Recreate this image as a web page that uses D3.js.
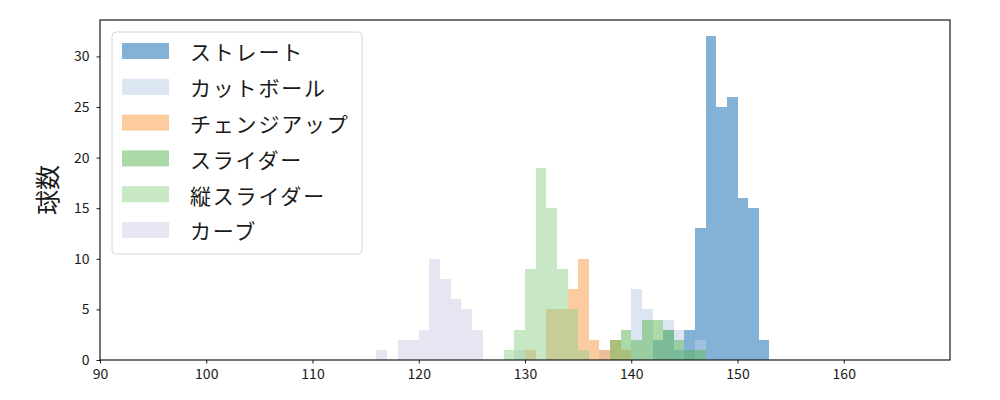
<!DOCTYPE html>
<html>
<head>
<meta charset="utf-8">
<script src="https://cdn.jsdelivr.net/npm/d3@7"></script>
<style>
body { margin: 0; background: #fff; }
text { font-family: "Noto Sans CJK JP", "Noto Sans", sans-serif; fill: #1a1a1a; }
.tick line { stroke: #1a1a1a; }
.domain { display: none; }
</style>
</head>
<body>
<div id="chart-area"></div>
<script>
const margin = {top: 20, right: 50, bottom: 40, left: 100};
const width = 1000;
const height = 400;

// 球種
const pitchNames = ["ストレート", "カットボール", "チェンジアップ", "スライダー", "縦スライダー", "カーブ"];
const pitchColors = ["#0965af", "#b9cde5", "#fb9741", "#57b551", "#8fcf8b", "#cdcde5"];

// 各ビンの左端 (km/h) と球数
const straightKmh = [142, 143, 144, 145, 146, 147, 148, 149, 150, 151, 152];
const straightCnt = [2, 3, 1, 3, 13, 32, 25, 26, 16, 15, 2];

const cutKmh = [129, 137, 140, 141, 142, 143, 144, 146];
const cutCnt = [1, 1, 7, 5, 2, 4, 3, 2];

const changeKmh = [130, 132, 133, 134, 135, 136, 137, 138, 139];
const changeCnt = [1, 5, 5, 7, 10, 2, 1, 2, 1];

const sliderKmh = [138, 139, 140, 141, 142, 143, 144, 145, 146];
const sliderCnt = [2, 3, 2, 4, 4, 3, 2, 1, 1];

const vSliderKmh = [128, 129, 130, 131, 132, 133, 134, 135];
const vSliderCnt = [1, 3, 9, 19, 15, 9, 5, 1];

const curveKmh = [116, 118, 119, 120, 121, 122, 123, 124, 125];
const curveCnt = [1, 2, 2, 3, 10, 8, 6, 5, 3];

const xTicks = [90, 100, 110, 120, 130, 140, 150, 160];
const yTicks = [0, 5, 10, 15, 20, 25, 30];

const series = [
	[straightKmh, straightCnt],
	[cutKmh, cutCnt],
	[changeKmh, changeCnt],
	[sliderKmh, sliderCnt],
	[vSliderKmh, vSliderCnt],
	[curveKmh, curveCnt]
];

var svg = d3.select("#chart-area").append("svg")
	.attr("width", width)
	.attr("height", height);

var x = d3.scaleLinear()
	.domain([90, 170])
	.range([margin.left, width - margin.right]);

var y = d3.scaleLinear()
	.domain([0, 32 * 1.05])
	.range([height - margin.bottom, margin.top]);

// ヒストグラム
series.forEach(function(s, i) {
	var data = s[0].map((k, j) => ({kmh: k, n: s[1][j]}));
	svg.selectAll(".bar" + i)
		.data(data)
		.enter().append("rect")
		.attr("class", "bar" + i)
		.attr("x", d => x(d.kmh))
		.attr("y", d => y(d.n))
		.attr("width", d => x(d.kmh + 1) - x(d.kmh))
		.attr("height", d => y(0) - y(d.n))
		.attr("fill", pitchColors[i])
		.attr("fill-opacity", 0.5)
		.attr("shape-rendering", "crispEdges");
});

// 軸
svg.append("g")
	.attr("transform", `translate(0,${height - margin.bottom})`)
	.call(d3.axisBottom(x).tickValues(xTicks).tickSize(3.5).tickPadding(6))
	.selectAll("text")
	.style("font-size", "14px");

svg.append("g")
	.attr("transform", `translate(${margin.left},0)`)
	.call(d3.axisLeft(y).tickValues(yTicks).tickSize(3.5).tickPadding(7))
	.selectAll("text")
	.style("font-size", "14px");

// 枠
svg.append("rect")
	.attr("x", margin.left)
	.attr("y", margin.top)
	.attr("width", width - margin.left - margin.right)
	.attr("height", height - margin.top - margin.bottom)
	.attr("fill", "none")
	.attr("stroke", "#1a1a1a")
	.attr("stroke-width", 1.2);

svg.append("text")
	.attr("transform", `translate(57,${(margin.top + height - margin.bottom) / 2}) rotate(-90)`)
	.style("text-anchor", "middle")
	.style("font-size", "25px")
	.text("球数");

// 凡例
var legend = svg.append("g")
	.attr("transform", "translate(112, 32)");

legend.append("rect")
	.attr("width", 250)
	.attr("height", 222)
	.attr("rx", 4)
	.attr("fill", "#fff")
	.attr("fill-opacity", 0.8)
	.attr("stroke", "#d6d6d6");

pitchNames.forEach(function(name, i) {
	legend.append("rect")
		.attr("x", 10)
		.attr("y", 11 + i * 35.8)
		.attr("width", 47)
		.attr("height", 16)
		.attr("fill", pitchColors[i])
		.attr("fill-opacity", 0.5);
	legend.append("text")
		.attr("x", 78)
		.attr("y", 21 + i * 35.8)
		.attr("dy", ".35em")
		.style("font-size", "21px")
		.style("letter-spacing", "1.8px")
		.text(name);
});
</script>
</body>
</html>
